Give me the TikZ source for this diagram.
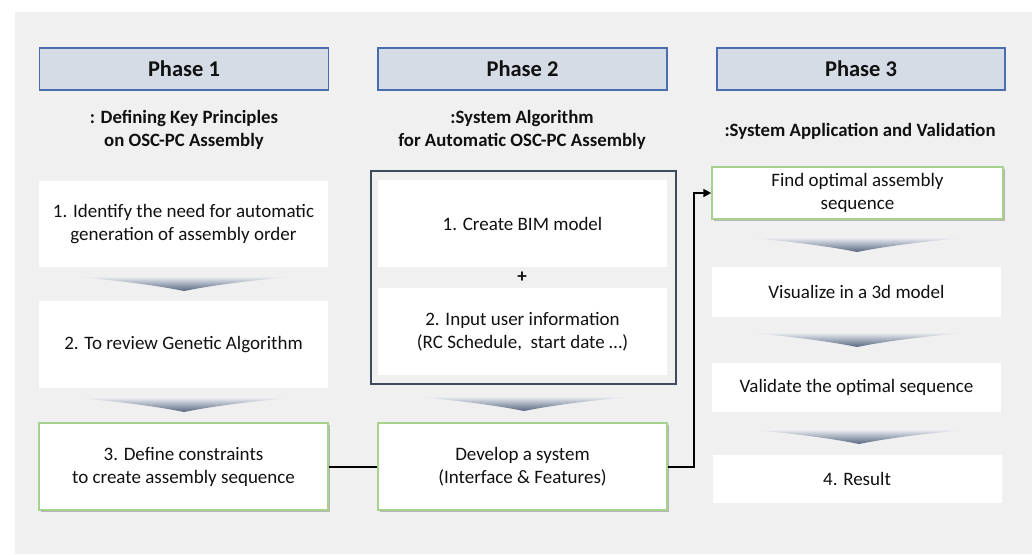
\documentclass[tikz,border=0pt]{standalone}
\usepackage{fontspec}
\setmainfont{Carlito}
\usetikzlibrary{shadows,arrows.meta}
\definecolor{pagebg}{HTML}{F0F0F0}
\definecolor{headfill}{HTML}{D6DCE5}
\definecolor{headline}{HTML}{4A6DB0}
\definecolor{framecol}{HTML}{3E4B5E}
\definecolor{greenline}{HTML}{A9D18E}
\definecolor{ink}{HTML}{111111}
\definecolor{chevtop}{HTML}{E8EBF0}
\definecolor{chevbot}{HTML}{56657F}
\tikzset{
  headbox/.style={draw=headline, line width=1.4pt, fill=headfill, minimum width=289pt, minimum height=42pt,
    font=\fontsize{22.5}{26}\selectfont\bfseries, text=ink},
  subtitle/.style={align=center, font=\fontsize{18.8}{23}\selectfont\bfseries, text=ink},
  stepbox/.style={fill=white, minimum width=289pt, align=center, font=\fontsize{19}{23}\selectfont, text=ink},
  keybox/.style={stepbox, draw=greenline, line width=1.5pt,
    drop shadow={shadow xshift=2pt, shadow yshift=-2pt, opacity=0.35, fill=black!70}},
  link/.style={draw=black, line width=2pt},
  chevron/.style={top color=chevtop, bottom color=chevbot, draw=none}
}
\newcommand{\chev}[2]{% centre x, top y
  \shade[chevron] (#1-105,#2) -- (#1+105,#2) .. controls (#1+40,#2+6) and (#1+10,#2+12) .. (#1,#2+14)
    .. controls (#1-10,#2+12) and (#1-40,#2+6) .. cycle;}
\begin{document}
\begin{tikzpicture}[x=1pt, y=-1pt]
\useasboundingbox (0,0) rectangle (1032,554);
\fill[white] (0,0) rectangle (1032,554);
\fill[pagebg] (15,12) rectangle (1032,554);

% headers
\node[headbox] (h1) at (184,69) {Phase 1};
\node[headbox] (h2) at (522.5,69) {Phase 2};
\node[headbox, minimum width=288pt] (h3) at (861,69) {Phase 3};

\node[subtitle] (s1) at (184,130) {: Defining Key Principles\\on OSC-PC Assembly};
\node[subtitle] (s2) at (522,130) {:System Algorithm\\for Automatic OSC-PC Assembly};
\node[subtitle] (s3) at (860,131) {:System Application and Validation};

% phase 1
\node[stepbox, minimum height=86pt] (a1) at (183.5,224) {1. Identify the need for automatic\\generation of assembly order};
\chev{184}{277}
\node[stepbox, minimum height=87pt] (a2) at (183.5,344.5) {2. To review Genetic Algorithm};
\chev{184}{398}
\node[keybox, minimum height=87pt] (a3) at (183.5,466.5) {3. Define constraints\\to create assembly sequence};

% phase 2
\node[draw=framecol, line width=2pt, fill=pagebg, minimum width=305pt, minimum height=213pt] (f) at (523,277) {};
\node[stepbox, minimum height=87pt] (b1) at (522.5,223.5) {1. Create BIM model};
\node[font=\fontsize{19}{20}\selectfont\bfseries, text=ink] (plus) at (522,277) {+};
\node[stepbox, minimum height=87pt] (b2) at (522.5,331.5) {2. Input user information\\(RC Schedule,\ \ start date \dots)};
\chev{524}{397}
\node[keybox, minimum height=87pt] (b3) at (522.5,466.5) {Develop a system\\(Interface \& Features)};

% phase 3
\node[keybox, minimum width=291pt, minimum height=52pt] (d1) at (857.5,193) {Find optimal assembly\\sequence};
\chev{857}{238}
\node[stepbox, minimum height=50pt] (d2) at (856.5,292) {Visualize in a 3d model};
\chev{857}{333}
\node[stepbox, minimum height=49pt] (d3) at (856.5,387.5) {Validate the optimal sequence};
\chev{859}{430}
\node[stepbox, minimum height=48pt] (d4) at (857,479) {4. Result};

% connectors
\draw[link] (a3.east) -- (b3.west);
\draw[link, -{Triangle[length=8pt, width=8pt]}] (b3.east) -- ++(26,0) |- (d1.west);
\end{tikzpicture}
\end{document}
